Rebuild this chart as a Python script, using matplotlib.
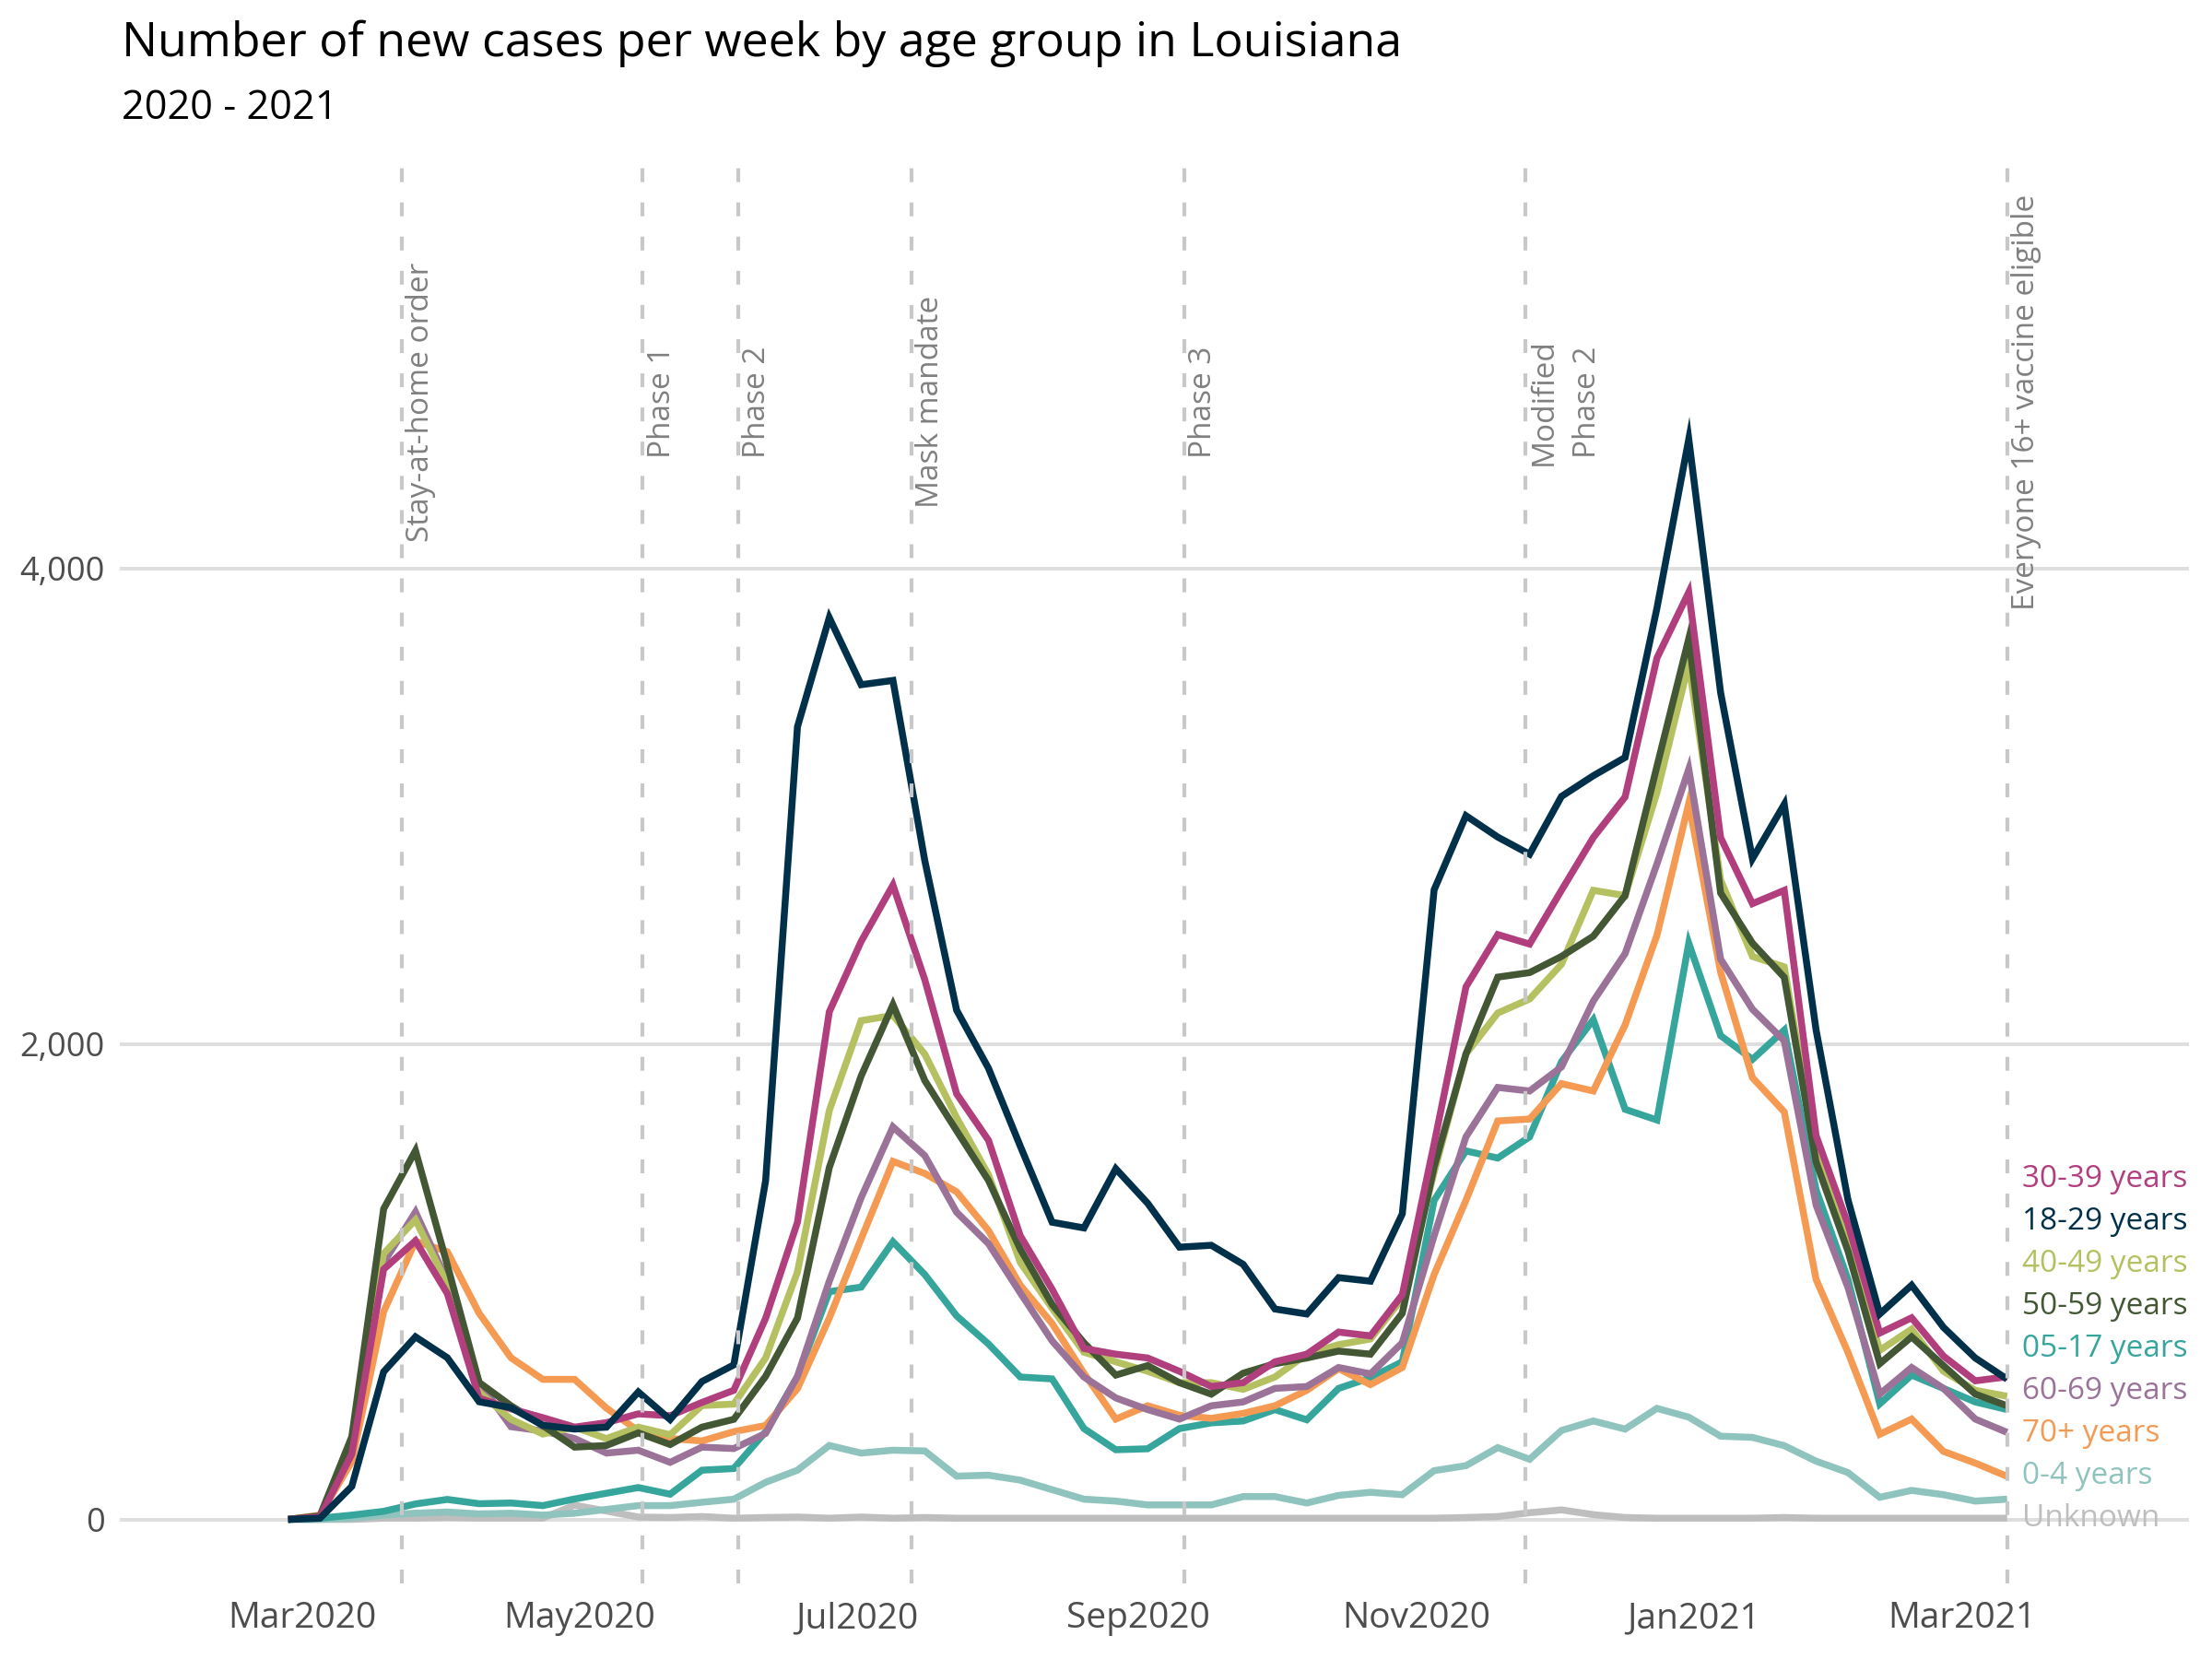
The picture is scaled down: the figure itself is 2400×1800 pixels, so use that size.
import matplotlib
matplotlib.use("Agg")
import matplotlib.pyplot as plt
import matplotlib.dates as mdates
import matplotlib.transforms as mtransforms
import numpy as np
import pandas as pd

plt.rcParams['font.family'] = ['Open Sans', 'DejaVu Sans']

# ---- data -------------------------------------------------------------
weeks = pd.date_range("2020-02-27", periods=55, freq="7D")

age_18_29 = [0, 5, 139, 621, 768, 680, 495, 470, 396, 380, 388, 536, 420, 580, 650, 1425,
             3334, 3793, 3511, 3529, 2771, 2142, 1898, 1570, 1250, 1226, 1475, 1330, 1145,
             1153, 1073, 885, 864, 1017, 1002, 1285, 2648, 2960, 2870, 2798, 3041, 3128,
             3205, 3833, 4544, 3478, 2779, 3008, 2058, 1345, 864, 985, 808, 679, 590]
age_30_39 = [0, 10, 275, 1052, 1172, 950, 510, 465, 428, 388, 407, 444, 436, 492, 543, 846,
             1250, 2135, 2431, 2668, 2270, 1790, 1595, 1193, 968, 719, 695, 679, 623, 559,
             575, 663, 695, 788, 772, 945, 1580, 2240, 2460, 2420, 2646, 2868, 3039, 3623,
             3900, 2868, 2590, 2646, 1614, 1242, 784, 848, 687, 583, 600]
age_40_49 = [0, 10, 340, 1118, 1260, 990, 535, 421, 359, 388, 340, 388, 356, 479, 485, 679,
             1041, 1720, 2098, 2120, 1957, 1690, 1450, 1081, 888, 703, 663, 623, 575, 575,
             547, 599, 695, 735, 759, 930, 1460, 1958, 2130, 2189, 2335, 2646, 2624, 3057,
             3600, 2690, 2368, 2324, 1531, 1177, 711, 800, 623, 543, 518]
age_50_59 = [0, 15, 348, 1306, 1551, 1070, 576, 478, 395, 304, 311, 364, 315, 388, 421, 602,
             847, 1480, 1865, 2165, 1846, 1635, 1426, 1137, 904, 743, 607, 647, 575, 527,
             615, 655, 679, 708, 695, 867, 1483, 1958, 2281, 2300, 2368, 2453, 2624, 3168,
             3705, 2635, 2424, 2280, 1503, 1129, 655, 768, 647, 527, 478]
age_05_17 = [0, 5, 18, 34, 65, 84, 66, 69, 58, 86, 110, 134, 106, 207, 214, 369, 600, 958,
             977, 1168, 1030, 856, 738, 599, 591, 382, 293, 297, 382, 406, 414, 462, 419,
             551, 596, 663, 1342, 1550, 1520, 1609, 1925, 2102, 1725, 1680, 2424, 2035,
             1935, 2058, 1386, 1010, 486, 607, 551, 494, 462]
age_60_69 = [0, 10, 291, 1080, 1293, 1002, 576, 390, 372, 340, 279, 291, 240, 304, 298, 362,
             602, 1002, 1353, 1651, 1530, 1292, 1160, 953, 751, 599, 511, 462, 422, 478, 494,
             551, 559, 639, 612, 743, 1193, 1609, 1817, 1802, 1903, 2180, 2380, 2757, 3156,
             2357, 2146, 2013, 1322, 976, 527, 639, 551, 422, 366]
age_70p = [0, 18, 243, 874, 1170, 1126, 867, 680, 589, 589, 468, 372, 340, 330, 369, 395,
           550, 847, 1180, 1506, 1455, 1378, 1215, 985, 824, 615, 422, 478, 438, 425, 446,
           478, 543, 634, 567, 639, 1030, 1342, 1676, 1684, 1833, 1802, 2080, 2457, 3012,
           2302, 1858, 1714, 1009, 703, 358, 422, 286, 237, 181]
age_00_04 = [0, 0, 5, 18, 26, 31, 23, 26, 18, 26, 42, 58, 58, 72, 85, 156, 207, 311, 279,
             291, 288, 182, 186, 165, 125, 85, 77, 61, 61, 61, 96, 96, 69, 101, 114, 104,
             205, 226, 302, 253, 374, 414, 380, 467, 430, 350, 345, 310, 245, 197, 93, 122,
             104, 77, 85]
age_unknown = [0, 0, 0, 5, 5, 8, 5, 5, 5, 60, 35, 10, 8, 12, 5, 8, 10, 5, 10, 5, 8, 5, 5, 5,
               5, 5, 5, 5, 5, 5, 5, 5, 5, 5, 5, 5, 5, 8, 12, 28, 40, 20, 8, 5, 5, 5, 5, 8, 5,
               5, 5, 5, 5, 5, 5]

series_names = ["Unknown", "0-4 years", "05-17 years", "70+ years", "60-69 years",
                "40-49 years", "50-59 years", "30-39 years", "18-29 years"]
series_values = [age_unknown, age_00_04, age_05_17, age_70p, age_60_69,
                 age_40_49, age_50_59, age_30_39, age_18_29]
series_colors = ["#BEBEBE", "#8FC3BE", "#36A59C", "#F49A52", "#9B7298",
                 "#B5C160", "#435734", "#B13F7E", "#01304A"]

event_dates = pd.to_datetime(["2020-03-23", "2020-05-15", "2020-06-05", "2020-07-13",
                              "2020-09-11", "2020-11-25", "2021-03-11"])
event_labels = ["Stay-at-home order", "Phase 1", "Phase 2", "Mask mandate", "Phase 3",
                "Modified\nPhase 2", "Everyone 16+ vaccine eligible"]

y_ticks = [0, 2000, 4000]
x_range = pd.to_datetime(["2020-01-21", "2021-04-20"])
y_range = (-269, 5740)

# ---- figure -----------------------------------------------------------
fig = plt.figure(figsize=(12, 9), dpi=200)
ax = fig.add_axes([0.0542, 0.0456, 0.9354, 0.8611])

for name, vals, col in zip(series_names, series_values, series_colors):
    ax.plot(weeks, vals, color=col, lw=2.7, solid_joinstyle="miter",
            solid_capstyle="butt", zorder=3)

trans = mtransforms.blended_transform_factory(ax.transData, ax.transAxes)
for d, lab in zip(event_dates, event_labels):
    ax.axvline(d, color="#C8C8C8", lw=1.5, dashes=(3.6, 5.3), zorder=4)
    ax.annotate(lab, xy=(mdates.date2num(d), 0.827), xycoords=trans,
                xytext=(1.5, 0), textcoords="offset points",
                rotation=90, ha="left", va="center", fontsize=12,
                color="#808080", multialignment="center", linespacing=1.55, zorder=5)

# end labels, stacked to avoid overlap
last = [v[-1] for v in series_values]
order = np.argsort(last, kind="stable")
gap = 178
prev = -1e9
for idx in order:
    ypos = max(last[idx], prev + gap)
    prev = ypos
    ax.annotate(series_names[idx], xy=(mdates.date2num(weeks[-1]), ypos),
                xytext=(6, 0), textcoords="offset points", ha="left", va="center",
                fontsize=12, color=series_colors[idx], zorder=6,
                annotation_clip=False)

ax.set_xlim(x_range[0], x_range[1])
ax.set_ylim(*y_range)
ax.set_yticks(y_ticks)
ax.yaxis.set_major_formatter(matplotlib.ticker.FuncFormatter(lambda v, p: f"{int(v):,}"))
ax.xaxis.set_major_locator(mdates.MonthLocator(bymonth=[1, 3, 5, 7, 9, 11]))
ax.xaxis.set_major_formatter(mdates.DateFormatter("%b%Y"))
ax.grid(axis="y", color="#DEDEDE", lw=1.4, zorder=0)
ax.grid(axis="x", visible=False)
for s in ax.spines.values():
    s.set_visible(False)
ax.tick_params(axis="both", length=0, labelcolor="#4D4D4D")
ax.tick_params(axis="x", pad=7, labelsize=14)
ax.tick_params(axis="y", pad=6, labelsize=13)

fig.text(0.055, 0.966, "Number of new cases per week by age group in Louisiana",
         fontsize=18.7, color="black", va="baseline", ha="left")
fig.text(0.055, 0.9286, "2020 - 2021", fontsize=15.6, color="black", va="baseline", ha="left")

fig.savefig("out.png", dpi=200)
